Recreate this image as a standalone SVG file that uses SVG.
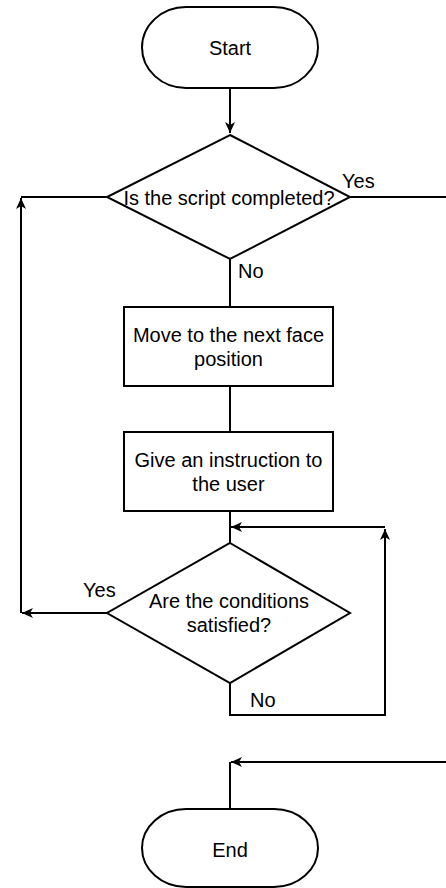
<svg xmlns="http://www.w3.org/2000/svg" width="446" height="888" viewBox="0 0 446 888">
<style>
.shape{fill:#fff;stroke:#000;stroke-width:2}
.edge{fill:none;stroke:#000;stroke-width:2}
text{font-family:"Liberation Sans",Arial,sans-serif;font-size:20px;fill:#000}
.c{text-anchor:middle}
</style>
<defs>
<marker id="arr" viewBox="0 0 11 10" refX="11" refY="5" markerWidth="11" markerHeight="10" markerUnits="userSpaceOnUse" orient="auto">
<path d="M0,0 L11,5 L0,10 L3,5 Z" fill="#000"/>
</marker>
</defs>
<rect width="446" height="888" fill="#fff"/>
<g id="connectors">
<path class="edge" d="M230,88 L230,133" marker-end="url(#arr)"/>
<path class="edge" d="M107,197 L21,197"/>
<path class="edge" d="M21,613 L21,198" marker-end="url(#arr)"/>
<path class="edge" d="M350,197 L446,197"/>
<path class="edge" d="M230,259 L230,307"/>
<path class="edge" d="M230,386 L230,432"/>
<path class="edge" d="M230,511 L230,543"/>
<path class="edge" d="M107,613 L22,613" marker-end="url(#arr)"/>
<path class="edge" d="M230,683 L230,715 L385,715 L385,529" marker-end="url(#arr)"/>
<path class="edge" d="M385,527 L231,527" marker-end="url(#arr)"/>
<path class="edge" d="M446,762 L231,762" marker-end="url(#arr)"/>
<path class="edge" d="M230,762 L230,809"/>
<text x="342" y="188">Yes</text>
<text x="238" y="278">No</text>
<text x="83" y="597">Yes</text>
<text x="250" y="707">No</text>
</g>
<g id="start">
<rect class="shape" x="142" y="7" width="176" height="81" rx="44" ry="40.5"/>
<text class="c" x="230" y="55">Start</text>
</g>
<g id="decision1">
<polygon class="shape" points="230,135 350,197 230,259 107,197"/>
<text class="c" x="229" y="205">Is the script completed?</text>
</g>
<g id="move">
<rect class="shape" x="124" y="307" width="209" height="79"/>
<text class="c" x="228.5" y="342">Move to the next face</text>
<text class="c" x="228.5" y="366">position</text>
</g>
<g id="instruct">
<rect class="shape" x="124" y="432" width="209" height="79"/>
<text class="c" x="228.5" y="467">Give an instruction to</text>
<text class="c" x="228.5" y="491">the user</text>
</g>
<g id="decision2">
<polygon class="shape" points="230,543 350,613 230,683 107,613"/>
<text class="c" x="229" y="608">Are the conditions</text>
<text class="c" x="229" y="632">satisfied?</text>
</g>
<g id="end">
<rect class="shape" x="142" y="809" width="176" height="78" rx="44" ry="39"/>
<text class="c" x="230" y="857">End</text>
</g>
</svg>
